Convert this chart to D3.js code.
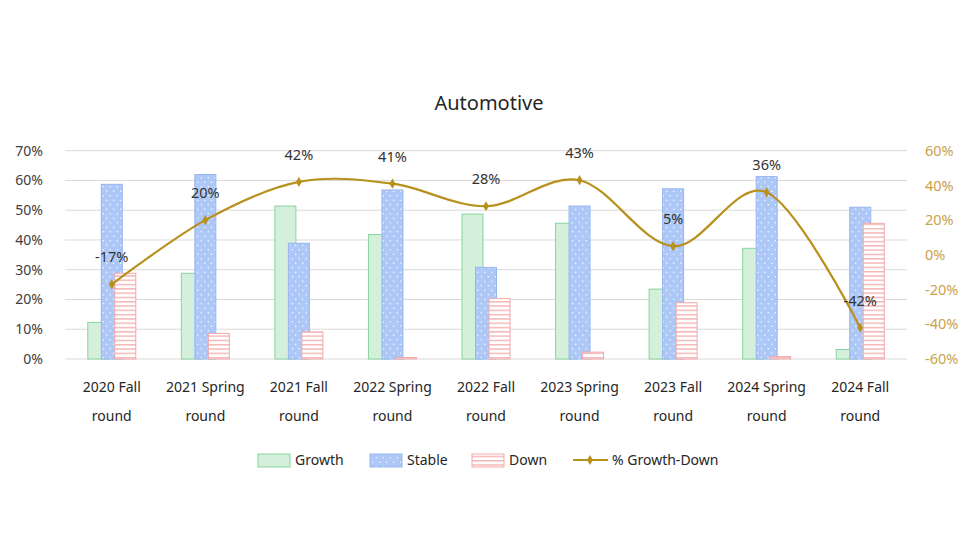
<!DOCTYPE html>
<html>
<head>
<meta charset="utf-8">
<script src="https://cdn.jsdelivr.net/npm/d3@7"></script>
<style>
  body { margin: 0; background: #fff; }
  svg text { font-family: "Noto Sans", Lato, sans-serif; }
</style>
</head>
<body>
<div id="root"></div>
<script>
// values
const categories = ["2020 Fall round", "2021 Spring round", "2021 Fall round", "2022 Spring round",
                    "2022 Fall round", "2023 Spring round", "2023 Fall round", "2024 Spring round", "2024 Fall round"]
const growth = [12.3, 28.8, 51.4, 41.8, 48.7, 45.6, 23.5, 37.2, 3.2]
const stable = [58.7, 62.0, 38.9, 56.8, 30.8, 51.4, 57.2, 61.3, 51.0]
const down   = [28.8, 8.6, 9.1, 0.5, 20.3, 2.3, 18.9, 0.8, 45.6]
const netPct = [-17, 20, 42, 41, 28, 43, 5, 36, -42]
const leftTicks = [0, 10, 20, 30, 40, 50, 60, 70]
const rightTicks = [-60, -40, -20, 0, 20, 40, 60]

const W = 980, H = 560
const plot = {left: 65, right: 907, top: 150.7, bottom: 359}

const svg = d3.select("#root").append("svg").attr("width", W).attr("height", H)

// patterns
const defs = svg.append("defs")
const dots = defs.append("pattern").attr("id", "dots").attr("patternUnits", "userSpaceOnUse")
  .attr("width", 7).attr("height", 9)
dots.append("rect").attr("width", 7).attr("height", 9).attr("fill", "#ADC8F7")
dots.append("circle").attr("cx", 1.75).attr("cy", 2.25).attr("r", 0.7).attr("fill", "#fff")
dots.append("circle").attr("cx", 5.25).attr("cy", 6.75).attr("r", 0.7).attr("fill", "#fff")

const stripes = defs.append("pattern").attr("id", "stripes").attr("patternUnits", "userSpaceOnUse")
  .attr("width", 6).attr("height", 4.3)
stripes.append("rect").attr("width", 6).attr("height", 4.3).attr("fill", "#fff")
stripes.append("rect").attr("y", 0).attr("width", 6).attr("height", 1.5).attr("fill", "#F5B8B8")

const x = d3.scaleBand().domain(categories).range([plot.left, plot.right])
const y = d3.scaleLinear().domain([0, 70]).range([plot.bottom, plot.top])
const y2 = d3.scaleLinear().domain([-60, 60]).range([plot.bottom, plot.top])

// gridlines
svg.append("g").selectAll("line").data(leftTicks).join("line")
  .attr("x1", plot.left).attr("x2", plot.right)
  .attr("y1", d => y(d)).attr("y2", d => y(d))
  .attr("stroke", "#D9D9D9").attr("stroke-width", 1)

// title
svg.append("text").attr("x", 489).attr("y", 110).attr("text-anchor", "middle")
  .attr("font-size", 20).attr("fill", "#262626").text("Automotive")

// left axis
const yAxis = svg.append("g").attr("transform", `translate(${plot.left - 20},0)`)
  .call(d3.axisLeft(y).tickValues(leftTicks).tickFormat(d => d + "%").tickSize(0).tickPadding(2))
yAxis.select(".domain").remove()
yAxis.selectAll("text").attr("font-size", 14).attr("fill", "#404040")

// right axis
const y2Axis = svg.append("g").attr("transform", `translate(${plot.right + 18},0)`)
  .call(d3.axisRight(y2).tickValues(rightTicks).tickFormat(d => d + "%").tickSize(0).tickPadding(0))
y2Axis.select(".domain").remove()
y2Axis.selectAll("text").attr("font-size", 14.5).attr("fill", "#C9A24C")

// x labels (two lines)
const xl = svg.append("g").selectAll("text").data(categories).join("text")
  .attr("x", d => x(d) + x.bandwidth() / 2).attr("text-anchor", "middle")
  .attr("font-size", 14).attr("fill", "#262626")
xl.append("tspan").attr("y", 392).text(d => d.replace(" round", ""))
xl.append("tspan").attr("x", d => x(d) + x.bandwidth() / 2).attr("y", 421).text("round")

// bars
const bw = 21
const series = [
  {key: "Growth", vals: growth, fill: "#D4F0DB", stroke: "#86D49E", off: -24},
  {key: "Stable", vals: stable, fill: "url(#dots)", stroke: "#97B7F0", off: -10.5},
  {key: "Down", vals: down, fill: "url(#stripes)", stroke: "#F2A7A7", off: 3}
]
series.forEach(s => {
  svg.append("g").selectAll("rect").data(categories).join("rect")
    .attr("x", d => x(d) + x.bandwidth() / 2 + s.off)
    .attr("y", (d, i) => y(s.vals[i]))
    .attr("width", bw)
    .attr("height", (d, i) => y(0) - y(s.vals[i]))
    .attr("fill", s.fill).attr("stroke", s.stroke).attr("stroke-width", 1)
})

// line
const lineColor = "#B8901C"
const pts = categories.map((c, i) => [x(c) + x.bandwidth() / 2, y2(netPct[i])])
svg.append("path").attr("d", d3.line().curve(d3.curveCatmullRom.alpha(0))(pts))
  .attr("fill", "none").attr("stroke", lineColor).attr("stroke-width", 2.2)
svg.append("g").selectAll("path").data(pts).join("path")
  .attr("transform", d => `translate(${d[0]},${d[1]})`)
  .attr("d", d3.symbol(d3.symbolDiamond, 30)).attr("fill", lineColor)
svg.append("g").selectAll("text").data(pts).join("text")
  .attr("x", d => d[0]).attr("y", d => d[1] - 22).attr("text-anchor", "middle")
  .attr("font-size", 14.5).attr("fill", "#333")
  .text((d, i) => netPct[i] + "%")

// legend
const lg = svg.append("g").attr("transform", "translate(0,460)")
const legendItems = [
  {label: "Growth", x: 258, fill: "#D4F0DB", stroke: "#86D49E"},
  {label: "Stable", x: 370, fill: "url(#dots)", stroke: "#97B7F0"},
  {label: "Down", x: 472, fill: "url(#stripes)", stroke: "#F2A7A7"}
]
legendItems.forEach(l => {
  lg.append("rect").attr("x", l.x).attr("y", -6).attr("width", 32).attr("height", 13)
    .attr("fill", l.fill).attr("stroke", l.stroke)
  lg.append("text").attr("x", l.x + 37).attr("y", 5).attr("font-size", 14).attr("fill", "#262626").text(l.label)
})
lg.append("line").attr("x1", 573).attr("x2", 608).attr("y1", 0).attr("y2", 0)
  .attr("stroke", lineColor).attr("stroke-width", 2.2)
lg.append("path").attr("transform", "translate(590,0)").attr("d", d3.symbol(d3.symbolDiamond, 30)).attr("fill", lineColor)
lg.append("text").attr("x", 612).attr("y", 5).attr("font-size", 14).attr("fill", "#262626").text("% Growth-Down")
</script>
</body>
</html>
